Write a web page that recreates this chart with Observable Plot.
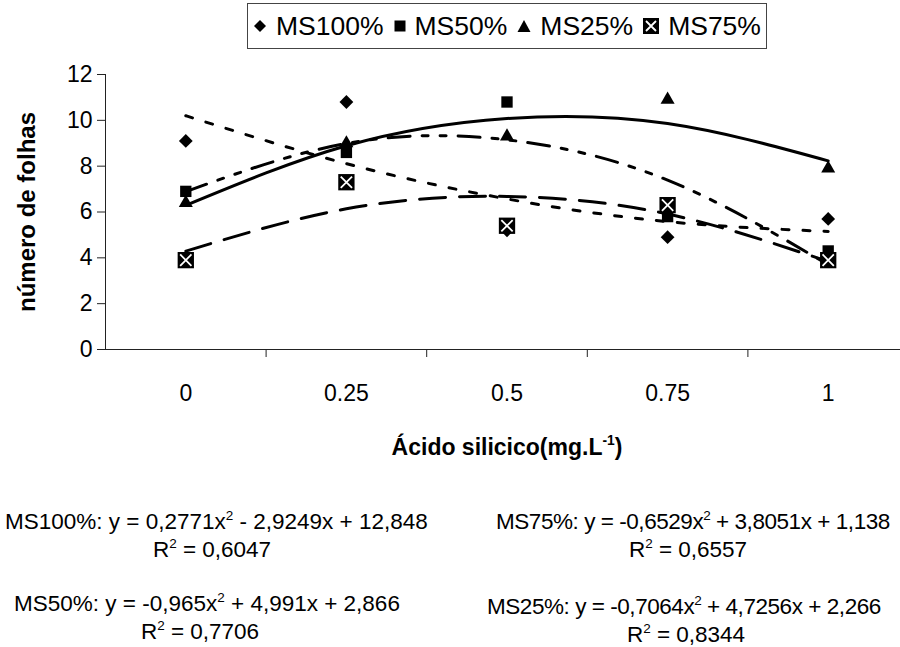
<!DOCTYPE html>
<html><head><meta charset="utf-8">
<script src="https://cdn.jsdelivr.net/npm/d3@7"></script>
<script src="https://cdn.jsdelivr.net/npm/@observablehq/plot@0.6"></script>
<style>
body{margin:0;background:#fff;font-family:"Liberation Sans",Arial,sans-serif;color:#000;}
#wrap{position:relative;width:900px;height:647px;overflow:hidden;background:#fff;}
#chart{position:absolute;left:0;top:0;}
.abs{position:absolute;white-space:nowrap;}
#legend{position:absolute;left:247px;top:3px;width:520px;height:46px;border:1px solid #444;box-sizing:border-box;display:flex;align-items:center;font-size:26.5px;overflow:hidden;padding-left:5px;}
#legend .it{display:flex;align-items:center;margin-right:10px;}
#legend svg{margin-right:9px;}
.eq{font-size:22.5px;}
.eq.r{letter-spacing:-0.45px;}
.eq sup{font-size:0.6em;vertical-align:0.7em;line-height:0;}
#xtitle{font-weight:bold;font-size:23px;}
#xtitle sup{font-size:0.6em;vertical-align:0.7em;line-height:0;}
</style></head><body>
<div id="wrap">
  <div id="chart"></div>
  <div id="legend"></div>
  <div id="xtitle" class="abs" style="left:507px;top:434px;transform:translateX(-50%);">Ácido silicico(mg.L<sup>-1</sup>)</div>
  <div class="abs eq" style="left:5px;top:509px;">MS100%: y = 0,2771x<sup>2</sup> - 2,9249x + 12,848</div>
  <div class="abs eq" style="left:212px;top:537px;transform:translateX(-50%);">R<sup>2</sup> = 0,6047</div>
  <div class="abs eq r" style="left:496px;top:509px;">MS75%: y = -0,6529x<sup>2</sup> + 3,8051x + 1,138</div>
  <div class="abs eq" style="left:688px;top:537px;transform:translateX(-50%);">R<sup>2</sup> = 0,6557</div>
  <div class="abs eq" style="left:14px;top:591px;">MS50%: y = -0,965x<sup>2</sup> + 4,991x + 2,866</div>
  <div class="abs eq" style="left:200px;top:619px;transform:translateX(-50%);">R<sup>2</sup> = 0,7706</div>
  <div class="abs eq r" style="left:487px;top:594px;">MS25%: y = -0,7064x<sup>2</sup> + 4,7256x + 2,266</div>
  <div class="abs eq" style="left:686px;top:622px;transform:translateX(-50%);">R<sup>2</sup> = 0,8344</div>
</div>
<script>
// Categories (x axis) and observed values
const categories = ["0", "0.25", "0.5", "0.75", "1"];
const ms100 = [9.1, 10.8, 5.2, 4.9, 5.7];
const ms50  = [6.9, 8.6, 10.8, 5.8, 4.3];
const ms25  = [6.4, 9.0, 9.3, 10.9, 7.9];
const ms75  = [3.9, 7.3, 5.4, 6.3, 3.9];
// Polynomial trend line values at each category (from the printed equations)
const trend100 = [10.20, 8.11, 6.57, 5.58, 5.15];
const trend50  = [6.89, 8.99, 9.15, 7.39, 3.70];
const trend25  = [6.29, 8.89, 10.08, 9.86, 8.23];
const trend75  = [4.29, 6.14, 6.68, 5.91, 3.84];
const yTicks = [0, 2, 4, 6, 8, 10, 12];
const seriesNames = ["MS100%", "MS50%", "MS25%", "MS75%"];
const yLabel = "número de folhas";

const rows = categories.map((c, i) => ({
  i, c,
  ms100: ms100[i], ms50: ms50[i], ms25: ms25[i], ms75: ms75[i],
  t100: trend100[i], t50: trend50[i], t25: trend25[i], t75: trend75[i]
}));

const sepTicks = categories.slice(1).map((c, i) => i + 0.5);

const chart = Plot.plot({
  width: 900,
  height: 470,
  marginTop: 74,
  marginBottom: 121,
  marginLeft: 105,
  marginRight: 0,
  style: {fontFamily: "Liberation Sans, Arial, sans-serif", color: "#000", background: "transparent", overflow: "visible"},
  x: {type: "linear", domain: [-0.5, categories.length - 0.5], range: [105, 908]},
  y: {domain: [0, 12]},
  marks: [
    // trend lines
    Plot.line(rows, {x: "i", y: "t25", curve: "natural", stroke: "#000", strokeWidth: 3}),
    Plot.line(rows, {x: "i", y: "t100", curve: "natural", stroke: "#000", strokeWidth: 3, strokeDasharray: "7,14"}),
    Plot.line(rows, {x: "i", y: "t50", curve: "natural", stroke: "#000", strokeWidth: 3, strokeDasharray: "22,12,6,12,6,12"}),
    Plot.line(rows, {x: "i", y: "t75", curve: "natural", stroke: "#000", strokeWidth: 3, strokeDasharray: "26,14"}),
    // axes
    Plot.ruleY([0], {stroke: "#222", strokeWidth: 1}),
    Plot.ruleX([-0.5], {stroke: "#222", strokeWidth: 1}),
    Plot.axisY({ticks: yTicks, tickSize: 8, tickPadding: 5, fontSize: 23, label: null, stroke: "#222"}),
    Plot.axisX({ticks: sepTicks, tickSize: 8, tickFormat: () => "", label: null, stroke: "#222"}),
    Plot.axisX({ticks: categories.map((c, i) => i), tickSize: 0, tickPadding: 35, fontSize: 23, tickFormat: i => categories[i], label: null}),
    Plot.text([yLabel], {frameAnchor: "left", dx: -78, rotate: -90, textAnchor: "middle", fontSize: 24, fontWeight: "bold", text: d => d}),
    // markers
    Plot.dot(rows, {x: "i", y: "ms100", symbol: "diamond2", r: 6.2, fill: "#000", stroke: "none"}),
    Plot.dot(rows, {x: "i", y: "ms50", symbol: "square", r: 6.4, fill: "#000", stroke: "none"}),
    Plot.dot(rows, {x: "i", y: "ms25", symbol: "triangle", r: 5.2, fill: "#000", stroke: "none"}),
    Plot.dot(rows, {x: "i", y: "ms75", symbol: "square", r: 9.2, fill: "#000", stroke: "none"}),
    Plot.dot(rows, {x: "i", y: "ms75", symbol: "times", r: 5.2, stroke: "#fff", strokeWidth: 1.8})
  ]
});
document.getElementById("chart").appendChild(chart);

// legend
const markerSvg = {
  "MS100%": '<svg width="14" height="14" viewBox="-7 -7 14 14"><path d="M0,-6L6,0L0,6L-6,0Z" fill="#000"/></svg>',
  "MS50%": '<svg width="12" height="12" viewBox="-6 -6 12 12"><rect x="-5.5" y="-5.5" width="11" height="11" fill="#000"/></svg>',
  "MS25%": '<svg width="14" height="14" viewBox="-7 -7 14 14"><path d="M0,-6L6.5,6L-6.5,6Z" fill="#000"/></svg>',
  "MS75%": '<svg width="16" height="16" viewBox="-8 -8 16 16"><rect x="-8" y="-8" width="16" height="16" fill="#000"/><path d="M-5,-5L5,5M-5,5L5,-5" stroke="#fff" stroke-width="1.8"/></svg>'
};
const leg = document.getElementById("legend");
seriesNames.forEach(n => {
  const it = document.createElement("div");
  it.className = "it";
  it.innerHTML = markerSvg[n] + "<span>" + n + "</span>";
  leg.appendChild(it);
});
</script>
</body></html>
